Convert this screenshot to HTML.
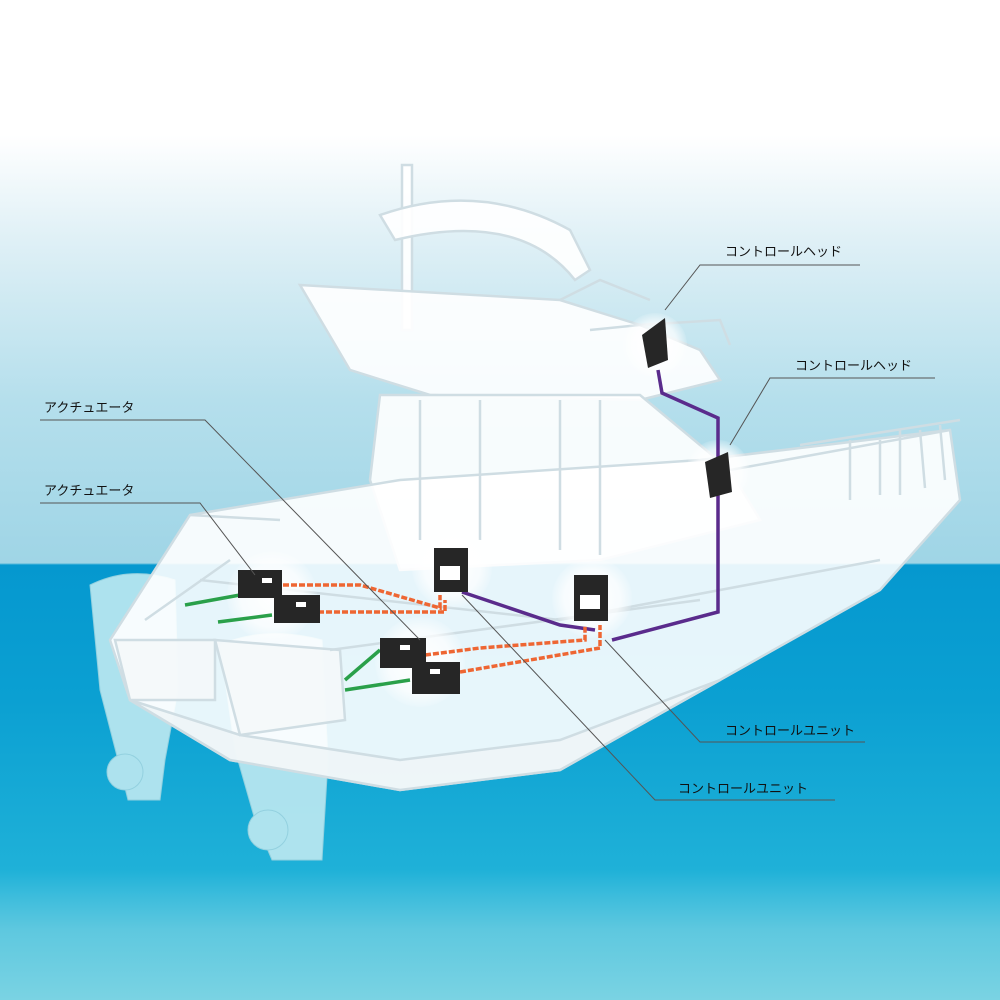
<!DOCTYPE html>
<html><head><meta charset="utf-8"><style>
html,body{margin:0;padding:0}
body{width:1000px;height:1000px;overflow:hidden;position:relative;font-family:"Liberation Sans","Noto Sans CJK JP",sans-serif;
background:linear-gradient(to bottom,#ffffff 0px,#ffffff 135px,#dff0f6 240px,#b5dfec 400px,#9fd5e6 563px,#0598cf 565px,#0ba0d2 700px,#1fb1d8 870px,#3bbcdc 895px,#5ec8df 930px,#7ad3e3 1000px);}
svg{position:absolute;left:0;top:0}
</style></head><body>
<svg width="1000" height="1000" viewBox="0 0 1000 1000">
<defs><radialGradient id="spot"><stop offset="0" stop-color="#fff" stop-opacity="1"/><stop offset="0.7" stop-color="#fff" stop-opacity="0.7"/><stop offset="1" stop-color="#fff" stop-opacity="0.1"/></radialGradient></defs>
<!-- engines -->
<g fill="#b6e6f0" stroke="#9ad3e0" opacity="0.95">
<path d="M90,585 Q130,565 175,580 L178,690 L165,760 L160,800 L128,800 L118,760 L100,690 Z"/>
<path d="M220,645 Q265,625 322,640 L328,760 L322,860 L272,860 L255,820 L235,750 Z"/>
<circle cx="125" cy="772" r="18"/><circle cx="268" cy="830" r="20"/>
</g>
<!-- boat -->
<g fill="#ffffff" fill-opacity="0.9" stroke="#cfdde3" stroke-width="2.5">
<path d="M402,165 L412,165 L412,330 L402,330 Z"/>
<path d="M380,215 Q480,180 570,230 L590,270 L575,280 Q520,210 395,240 Z"/>
<path d="M300,285 L560,300 L640,325 L700,350 L720,380 L640,400 L430,395 L350,370 Z"/>
<path d="M380,395 L640,395 L730,470 L760,520 L600,560 L400,570 L370,480 Z"/>
<path d="M110,640 L190,515 L400,480 L700,460 L950,430 L960,500 L880,590 L720,680 L560,770 L400,790 L230,760 L130,700 Z"/>
<path d="M130,700 L230,760 L400,790 L560,770 L720,680 L560,740 L400,760 L240,735 Z" fill="#eef5f7"/>
<path d="M115,640 L215,640 L215,700 L130,700 Z" fill="#f4f8f9"/>
<path d="M215,640 L340,650 L345,720 L240,735 Z" fill="#f4f8f9"/>
</g>
<g fill="none" stroke="#cfdde3" stroke-width="2.5">
<path d="M730,470 L950,430"/><path d="M800,445 L960,420 M850,440 L850,500 M900,430 L900,495 M940,425 L945,480 M880,440 L880,495 M920,430 L925,488"/>
<path d="M420,400 L420,540 M480,400 L480,540 M560,400 L560,550 M600,400 L600,555"/>
<path d="M190,515 L280,520 M200,580 L560,620 L880,560 M145,620 L230,560 M330,650 L700,600"/>
<path d="M560,300 L600,280 L650,300 M590,330 L640,325 L720,320 L730,345"/>
</g>
<!-- spots -->
<g fill="url(#spot)">
<circle cx="655" cy="345" r="32"/><circle cx="718" cy="472" r="32"/>
<circle cx="452" cy="568" r="40"/><circle cx="592" cy="598" r="40"/>
<circle cx="272" cy="596" r="45"/><circle cx="420" cy="662" r="45"/>
</g>
<!-- cables -->
<g fill="none" stroke-width="3.5">
<path d="M658,370 L662,393 L718,418 L718,612 L612,640" stroke="#5a2b8c"/>
<path d="M462,592 L560,625 L595,630" stroke="#5a2b8c"/>
<path d="M283,585 L360,585 L440,608 L440,595" stroke="#ee6633" stroke-dasharray="6,2"/>
<path d="M318,612 L445,612 L445,600" stroke="#ee6633" stroke-dasharray="6,2"/>
<path d="M425,655 L480,648 L585,640 L585,625" stroke="#ee6633" stroke-dasharray="6,2"/>
<path d="M460,672 L600,648 L600,625" stroke="#ee6633" stroke-dasharray="6,2"/>
<path d="M185,605 L240,595 M218,622 L272,615 M345,680 L380,650 M345,690 L410,680" stroke="#2aa04a"/>
</g>
<!-- devices -->
<g fill="#262626">
<path d="M642,335 L665,318 L668,360 L648,368 Z"/><path d="M705,462 L728,452 L732,492 L710,498 Z"/>
<rect x="434" y="548" width="34" height="44"/><rect x="574" y="575" width="34" height="46"/>
<rect x="238" y="570" width="44" height="28"/><rect x="274" y="595" width="46" height="28"/>
<rect x="380" y="638" width="46" height="30"/><rect x="412" y="662" width="48" height="32"/>
</g>
<g fill="#fff"><rect x="440" y="566" width="20" height="14"/><rect x="580" y="595" width="20" height="14"/>
<rect x="262" y="578" width="10" height="5"/><rect x="296" y="602" width="10" height="5"/><rect x="400" y="645" width="10" height="5"/><rect x="430" y="669" width="10" height="5"/></g>
<!-- leaders -->
<g fill="none" stroke="#555" stroke-width="1">
<path d="M860,265 L700,265 L665,310"/>
<path d="M935,378 L770,378 L730,445"/>
<path d="M40,420 L205,420 L420,640"/>
<path d="M40,503 L200,503 L255,575"/>
<path d="M865,742 L700,742 L605,640"/>
<path d="M835,800 L655,800 L462,595"/>
</g>
<g font-size="13" fill="#111">
<text x="725" y="256">コントロールヘッド</text>
<text x="795" y="370">コントロールヘッド</text>
<text x="44" y="412">アクチュエータ</text>
<text x="44" y="495">アクチュエータ</text>
<text x="725" y="735">コントロールユニット</text>
<text x="678" y="793">コントロールユニット</text>
</g>
</svg>
</body></html>
